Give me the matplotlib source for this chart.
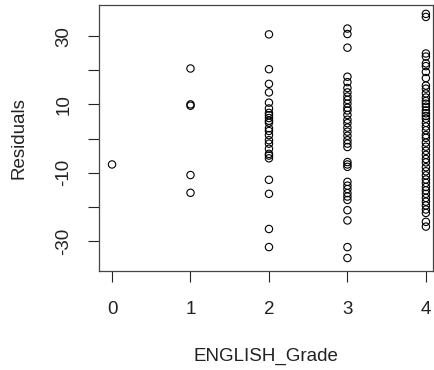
import numpy as np
import matplotlib.pyplot as plt

plt.rcParams['font.family'] = ['Liberation Sans', 'DejaVu Sans']

# residuals, grouped by grade
grade0 = [-7.6]
grade1 = [20.5, 10.0, 9.6, -10.7, -15.9]
grade2 = [30.5, 20.3, 16.0, 13.5, 10.5, 8.8, 7.5, 6.8, 6.0, 5.2, 4.6, 3.0,
          2.2, 1.0, -0.5, -1.5, -3.0, -4.5, -5.0, -5.8, -12.1, -16.2,
          -26.5, -31.8]
grade3 = [32.2, 30.6, 26.6, 18.1, 16.5, 14.8, 13.5, 12.3, 11.3, 10.2, 9.0,
          8.2, 6.9, 5.5, 4.5, 3.2, 2.0, 0.8, -0.5, -1.5, -2.5, -6.9, -7.6,
          -8.3, -12.7, -13.8, -14.8, -16.0, -17.0, -18.0, -21.0, -24.0,
          -31.8, -35.0]
grade4 = [36.5, 35.6, 24.9, 24.0, 22.0, 21.2, 19.5, 17.7, 15.5, 14.6, 13.2,
          12.0, 11.0, 10.2, 9.3, 8.2, 7.4, 6.6, 5.8, 4.6, 3.5, 2.4, 1.0, 0.2,
          -1.2, -2.4, -3.6, -4.8, -6.0, -7.0, -8.4, -9.6, -10.8, -12.0,
          -13.0, -14.2, -15.2, -16.2, -17.4, -18.5, -19.6, -20.8, -21.8,
          -24.4, -25.8]

groups = [grade0, grade1, grade2, grade3, grade4]
x = np.concatenate([[g] * len(v) for g, v in enumerate(groups)])
y = np.concatenate(groups)

fig = plt.figure(figsize=(4.35, 3.7), dpi=100)
ax = fig.add_axes([0.2276, 0.2676, 0.7677, 0.7189])

ax.scatter(x, y, s=28, facecolors='none', edgecolors='black', linewidths=0.8)

ax.set_xlim(-0.166, 4.09)
ax.set_ylim(-38.8, 39.1)
ax.set_xticks([0, 1, 2, 3, 4])
yt = [30, 20, 10, 0, -10, -20, -30]
ax.set_yticks(yt)
ax.set_yticklabels([str(v) if v % 20 else '' for v in yt], rotation=90,
                   va='center')
ax.tick_params(direction='out', length=8, width=0.8, labelsize=13.5,
               colors='#222222')
ax.tick_params(axis='x', pad=13.5)
ax.tick_params(axis='y', pad=11)
for s in ax.spines.values():
    s.set_color('#444444')
    s.set_linewidth(0.9)

ax.set_xlabel('ENGLISH_Grade', fontsize=13.5, color='#222222', labelpad=21.5)
ax.set_ylabel('Residuals', fontsize=13.5, color='#222222', labelpad=20)

fig.savefig('out.png', dpi=100)
